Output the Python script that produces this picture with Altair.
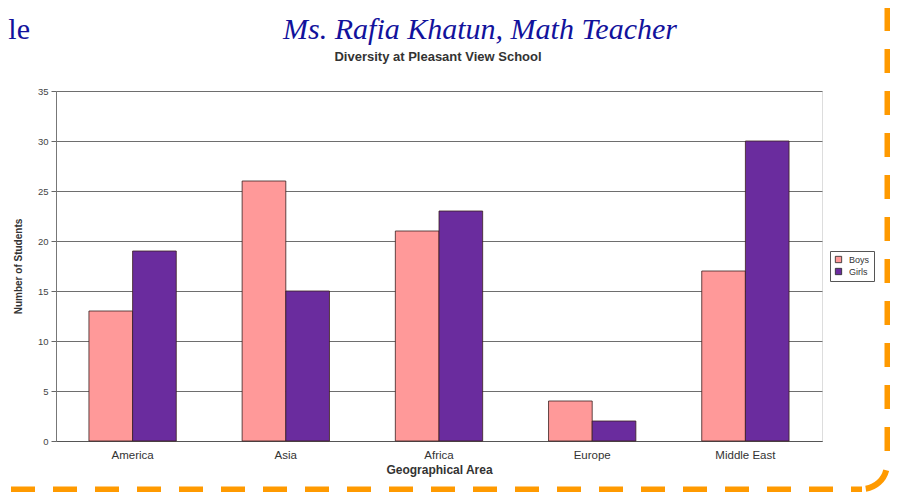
import altair as alt
import pandas as pd
import math

areas = ["America", "Asia", "Africa", "Europe", "Middle East"]
boys = [13, 26, 21, 4, 17]
girls = [19, 15, 23, 2, 30]
series = ["Boys", "Girls"]
colors = ["#FF9999", "#6A2C9E"]
y_ticks = [0, 5, 10, 15, 20, 25, 30, 35]

rows = []
for a, b, g in zip(areas, boys, girls):
    rows.append({"area": a, "series": "Boys", "students": b})
    rows.append({"area": a, "series": "Girls", "students": g})
df = pd.DataFrame(rows)

FONT = "Liberation Sans"

bars = alt.Chart(df).mark_bar(stroke="#3a2020", strokeWidth=0.8).encode(
    x=alt.X("area:N", sort=areas,
            scale=alt.Scale(paddingInner=0.43, paddingOuter=0.215),
            axis=alt.Axis(title="Geographical Area", labelAngle=0, labelFontSize=11.5,
                          labelFont=FONT, labelColor="#333", labelPadding=8,
                          ticks=False, domainColor="#555",
                          titleFont=FONT, titleFontSize=12, titleFontWeight="bold",
                          titleColor="#333", titlePadding=4)),
    xOffset=alt.XOffset("series:N", sort=series),
    y=alt.Y("students:Q", scale=alt.Scale(domain=[0, 35], nice=False),
            axis=alt.Axis(title="Number of Students", values=y_ticks, labelFontSize=9.5,
                          labelFont=FONT, labelColor="#444", tickSize=5,
                          tickColor="#666", domainColor="#777", labelPadding=3,
                          gridColor="#6e6e6e", gridWidth=1,
                          titleFont=FONT, titleFontSize=10, titleFontWeight="bold",
                          titleColor="#333", titleX=-38, titleY=175,
                          titleBaseline="middle")),
    color=alt.Color("series:N", sort=series,
                    scale=alt.Scale(domain=series, range=colors),
                    legend=alt.Legend(title=None, orient="none", legendX=774, legendY=160,
                                      symbolType="square", symbolSize=40,
                                      symbolStrokeColor="#222", symbolStrokeWidth=0.8,
                                      labelFont=FONT, labelFontSize=9, labelColor="#333",
                                      strokeColor="#555", fillColor="white", padding=4,
                                      rowPadding=1, labelOffset=6)),
)

head = alt.Chart(pd.DataFrame({"t": ["Ms.  Rafia Khatun, Math Teacher"]})).mark_text(
    font="Liberation Serif", fontStyle="italic", fontSize=30, color="#12129c",
    align="center", baseline="alphabetic"
).encode(text="t:N", x=alt.value(424), y=alt.value(-52))

sub = alt.Chart(pd.DataFrame({"t": ["Diversity at Pleasant View School"]})).mark_text(
    font=FONT, fontWeight="bold", fontSize=13, color="#333",
    align="center", baseline="middle"
).encode(text="t:N", x=alt.value(382), y=alt.value(-34))

head_left = alt.Chart(pd.DataFrame({"t": ["le"]})).mark_text(
    font="Liberation Serif", fontSize=30, color="#12129c",
    align="right", baseline="alphabetic"
).encode(text="t:N", x=alt.value(-26), y=alt.value(-52))

orange = "#FF9A00"
vline = alt.Chart(pd.DataFrame({"k": [0]})).mark_rule(
    color=orange, strokeWidth=7, strokeDash=[24, 18]
).encode(x=alt.value(832), y=alt.value(-126), y2=alt.value(373))

hline = alt.Chart(pd.DataFrame({"k": [0]})).mark_rule(
    color=orange, strokeWidth=7, strokeDash=[24, 18]
).encode(x=alt.value(-87), x2=alt.value(806), y=alt.value(399))

corner = alt.Chart(pd.DataFrame({"k": [0]})).mark_arc(
    color=orange, theta=math.pi / 2 + 0.25, theta2=math.pi - 0.15,
    innerRadius=22, outerRadius=28
).encode(x=alt.value(806), y=alt.value(373))

chart = alt.layer(bars, head, sub, head_left, vline, hline, corner).properties(
    width=766, height=350,
    autosize="none",
    padding={"left": 48, "top": 83, "right": 68, "bottom": 51},
).configure_view(fill="#C0C0C0", stroke=None).configure(background="white")

chart.save("out.html", embed_options={"renderer": "svg", "actions": False})
